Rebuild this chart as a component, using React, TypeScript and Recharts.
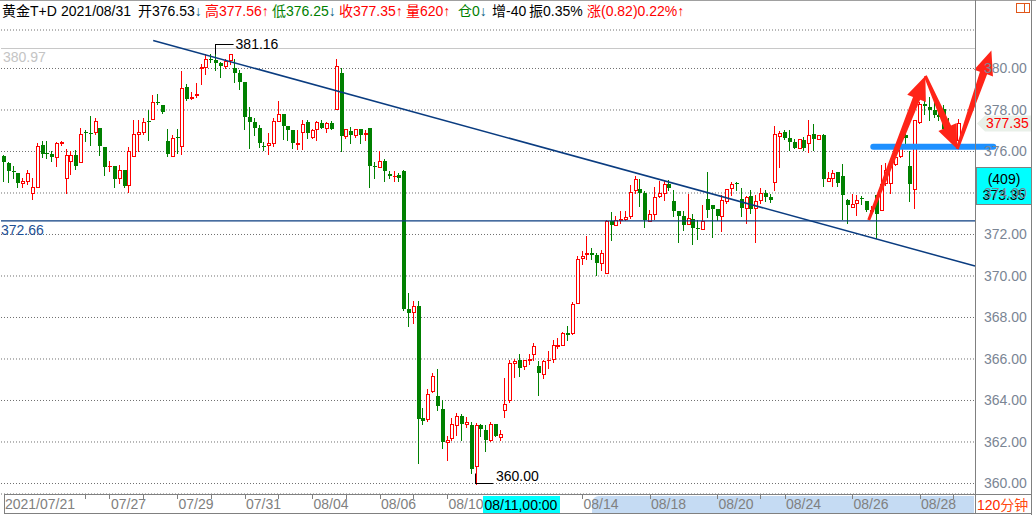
import React from 'react';
import { ComposedChart, Bar, XAxis, YAxis, CartesianGrid, ReferenceLine, ReferenceDot } from 'recharts';

// ---------- data (120-minute candles, 黄金T+D) ----------
const opens = [
  375.8, 375.45, 375.05, 374.95, 374.5, 374.6, 374.0, 374.3, 376.3, 375.95,
  375.9, 375.75, 376.4, 374.7, 375.55, 375.85, 375.47, 376.95, 376.9, 376.93,
  377.15, 376.24, 375.3, 375.28, 374.72, 375.1, 374.37, 375.8, 376.85, 376.96,
  377.45, 377.55, 378.38, 378.25, 376.5, 375.8, 376.68, 376.27, 379.1, 378.6,
  378.7, 380.0, 380.05, 380.48, 380.4, 380.27, 380.1, 380.4, 380.0, 379.76,
  379.33, 377.65, 377.44, 377.15, 376.25, 376.3, 376.4, 377.49, 377.8, 377.23,
  377.05, 376.38, 376.93, 377.4, 376.7, 377.07, 377.36, 377.15, 377.36, 378.03,
  379.79, 376.75, 377.0, 376.8, 377.07, 376.85, 377.12, 375.31, 375.24, 375.55,
  374.93, 374.8, 374.85, 375.05, 368.39, 368.27, 368.55, 363.15, 363.1, 364.45,
  364.24, 363.6, 362.0, 362.2, 362.8, 363.24, 362.87, 362.8, 360.85, 362.8,
  362.58, 362.1, 362.87, 362.23, 363.52, 364.0, 365.8, 365.97, 365.65, 365.97,
  366.23, 365.65, 365.29, 365.95, 366.0, 366.64, 366.69, 367.27, 367.26, 368.71,
  370.85, 371.05, 371.1, 371.0, 370.65, 370.16, 372.66, 372.47, 372.71, 372.76,
  372.87, 374.13, 374.19, 374.0, 372.63, 373.0, 373.84, 374.0, 374.45, 373.63,
  373.11, 372.87, 372.52, 372.73, 372.31, 372.27, 373.69, 373.4, 373.21, 372.89,
  373.61, 374.24, 374.48, 373.69, 373.29, 373.84, 373.29, 373.68, 374.02, 373.81,
  374.53, 376.76, 376.92, 376.63, 376.47, 376.19, 376.55, 376.39, 376.82, 376.58,
  376.79, 374.58, 374.73, 375.02, 374.81, 373.65, 373.32, 373.52, 373.75, 373.63,
  373.15, 373.9, 373.18, 374.46, 374.5, 375.42, 375.78, 376.8, 375.3, 374.17,
  377.43, 378.28, 378.15, 378.0, 377.75, 378.07, 377.2, 376.9, 376.53,
];
const highs = [
  375.85, 375.5, 375.3, 374.95, 374.7, 375.1, 374.7, 376.4, 376.5, 376.5,
  376.0, 376.45, 376.5, 376.1, 376.0, 376.05, 377.15, 377.05, 377.7, 377.6,
  377.15, 376.24, 375.55, 375.3, 375.33, 375.1, 376.2, 377.5, 377.5, 377.6,
  378.0, 378.7, 378.75, 378.25, 377.07, 376.8, 377.1, 379.9, 379.23, 378.88,
  379.28, 380.24, 380.69, 380.7, 381.16, 380.32, 380.48, 380.72, 380.48, 379.92,
  379.33, 378.16, 377.6, 377.28, 376.45, 376.9, 377.6, 378.45, 377.8, 377.23,
  377.05, 377.05, 377.52, 377.52, 377.09, 377.47, 377.52, 377.4, 377.47, 380.48,
  380.0, 377.07, 377.2, 377.07, 377.07, 377.04, 377.12, 375.5, 376.0, 375.63,
  375.04, 375.04, 374.96, 375.13, 369.16, 368.79, 368.79, 363.63, 364.56, 365.34,
  365.53, 364.0, 362.3, 363.15, 363.4, 363.35, 363.2, 362.95, 362.9, 362.87,
  362.8, 362.98, 362.87, 362.58, 365.1, 365.94, 366.0, 366.23, 365.97, 366.26,
  366.77, 365.89, 365.97, 366.37, 366.9, 367.0, 367.31, 367.6, 368.76, 370.97,
  371.2, 371.94, 371.34, 371.13, 371.23, 372.68, 373.06, 372.87, 373.11, 373.11,
  374.4, 374.84, 374.69, 374.11, 373.19, 374.29, 374.56, 374.56, 374.65, 374.16,
  373.15, 373.11, 373.97, 372.97, 372.68, 373.4, 375.02, 373.4, 373.21, 373.89,
  374.21, 374.53, 374.53, 374.26, 373.84, 374.16, 373.92, 374.26, 374.16, 373.97,
  377.23, 376.98, 377.03, 377.03, 376.58, 376.58, 376.71, 377.52, 377.32, 376.79,
  376.84, 375.02, 375.1, 375.02, 375.39, 373.73, 373.97, 373.89, 373.85, 373.63,
  373.39, 373.9, 375.34, 375.43, 375.5, 376.07, 376.7, 377.03, 376.02, 377.51,
  378.39, 378.96, 378.63, 378.48, 378.23, 378.23, 377.6, 377.1, 377.56,
];
const lows = [
  374.6, 374.55, 374.7, 374.3, 374.3, 374.45, 373.7, 374.3, 375.75, 375.7,
  375.55, 375.3, 376.3, 374.0, 374.9, 375.15, 375.47, 376.5, 376.3, 376.85,
  375.85, 374.85, 375.05, 374.27, 374.5, 374.27, 374.05, 375.8, 376.0, 376.85,
  376.55, 377.55, 378.3, 377.85, 375.8, 375.76, 375.95, 375.9, 378.48, 378.51,
  378.64, 379.25, 379.73, 380.3, 379.92, 379.57, 380.0, 380.24, 379.33, 379.0,
  377.07, 376.16, 376.8, 376.2, 376.05, 375.9, 376.27, 377.49, 376.6, 376.55,
  376.16, 376.13, 376.13, 376.64, 376.64, 376.56, 377.12, 376.93, 377.09, 378.03,
  376.0, 376.67, 376.4, 376.72, 376.4, 376.56, 374.27, 374.7, 375.24, 374.56,
  374.7, 374.56, 374.56, 368.35, 367.6, 367.74, 361.0, 362.87, 363.0, 364.4,
  363.55, 361.7, 361.13, 362.1, 362.35, 362.1, 362.7, 360.5, 360.0, 362.27,
  361.58, 362.07, 362.3, 362.1, 363.2, 363.92, 365.13, 365.16, 365.53, 365.74,
  365.97, 364.27, 365.1, 365.58, 365.85, 366.55, 366.69, 366.9, 367.2, 368.71,
  370.6, 370.8, 370.82, 370.05, 370.3, 370.16, 371.74, 372.47, 372.55, 372.71,
  372.79, 374.0, 373.35, 372.34, 372.63, 372.74, 373.79, 373.68, 374.16, 372.9,
  371.66, 372.24, 372.52, 371.52, 371.79, 372.27, 372.84, 371.87, 372.68, 372.19,
  373.53, 373.89, 374.16, 372.87, 372.55, 373.03, 371.63, 373.53, 373.6, 373.56,
  374.16, 375.26, 376.58, 376.06, 376.18, 376.19, 376.06, 375.98, 376.06, 376.58,
  374.32, 374.58, 374.32, 374.32, 372.76, 372.55, 373.32, 372.92, 373.45, 373.15,
  373.1, 371.81, 373.18, 374.38, 373.98, 375.35, 375.75, 376.23, 373.6, 373.26,
  377.38, 377.83, 377.5, 377.67, 377.54, 377.03, 376.6, 376.3, 376.25,
];
const closes = [
  375.5, 375.05, 375.0, 374.5, 374.6, 374.95, 374.3, 376.27, 375.9, 375.9,
  375.75, 376.4, 376.45, 375.85, 375.85, 375.3, 376.83, 376.92, 376.85, 377.47,
  376.27, 375.25, 375.32, 374.69, 375.1, 374.32, 376.0, 376.83, 376.95, 377.4,
  377.4, 378.37, 378.35, 377.9, 375.87, 376.67, 376.65, 379.04, 378.53, 378.64,
  378.75, 380.05, 380.48, 380.4, 380.27, 380.1, 380.37, 380.69, 379.76, 379.36,
  377.65, 377.44, 377.15, 376.4, 376.2, 376.4, 377.47, 377.8, 377.25, 377.05,
  376.4, 376.4, 377.31, 376.88, 377.04, 377.4, 377.15, 377.36, 377.09, 380.11,
  376.75, 377.07, 376.8, 377.07, 376.8, 376.88, 375.31, 375.25, 375.55, 375.04,
  374.8, 374.83, 374.72, 368.4, 368.24, 368.55, 363.1, 363.0, 364.32, 365.16,
  363.73, 361.98, 362.1, 362.87, 363.24, 362.87, 362.95, 360.7, 362.8, 362.63,
  362.1, 362.87, 362.3, 362.39, 363.84, 365.8, 365.9, 365.58, 365.94, 366.02,
  366.61, 365.32, 365.89, 365.97, 366.66, 366.66, 367.27, 367.15, 368.65, 370.81,
  370.98, 371.1, 371.0, 370.65, 371.1, 372.63, 372.47, 372.71, 372.76, 372.84,
  374.05, 374.68, 374.0, 372.71, 372.98, 373.81, 374.0, 374.45, 374.24, 373.11,
  372.87, 372.48, 372.79, 372.31, 372.26, 372.65, 373.16, 373.21, 372.87, 373.68,
  374.21, 374.45, 374.45, 373.27, 373.81, 373.24, 373.6, 374.02, 373.81, 373.68,
  376.82, 376.87, 376.66, 376.47, 376.19, 376.58, 376.19, 376.79, 376.58, 376.79,
  374.66, 374.74, 374.94, 374.48, 373.89, 373.4, 373.48, 373.68, 373.7, 373.18,
  373.2, 372.97, 374.41, 375.1, 375.35, 375.75, 376.23, 376.63, 374.41, 377.51,
  378.31, 378.2, 378.0, 377.75, 377.67, 377.1, 376.9, 376.55, 377.35,
];

const EMPTY_SLOTS = 3;
const xTickIdx = [0, 17, 22, 29, 36, 43, 50, 57, 64, 71, 78, 85, 92, 120, 134, 148, 157, 162, 176, 190, 197];
const xTickText: Record<number, string> = {
  0: '2021/07/21', 22: '07/27', 36: '07/29', 50: '07/31', 64: '08/04', 78: '08/06', 92: '08/10',
  120: '08/14', 134: '08/18', 148: '08/20', 162: '08/24', 176: '08/26', 190: '08/28',
};
const yTicks = [360, 362, 364, 366, 368, 370, 372, 374, 376, 378, 380];
const Y_DOMAIN: [number, number] = [359.494, 381.855];
const X_DOMAIN: [number, number] = [-0.5, 201.5];

// annotations (index, price)
const trendLine = [{ i: 31.06, p: 381.35 }, { i: 201.5, p: 370.48 }];
const supportPrice = 372.66;
const prevHighPrice = 380.97;
const highMark = { i: 44, p: 381.16, text: '381.16' };
const lowMark = { i: 98, p: 360.0, text: '360.00' };
const blueLevel = { from: 180.4, to: 205.3, p: 376.23 };
const arrowPath = [
  { i: 179.46, p: 372.7 },
  { i: 191.2, p: 379.64 },
  { i: 197.8, p: 376.12 },
  { i: 204.9, p: 380.87 },
];
const cross = { i: 99.46, p: 373.35, date: '08/11,00:00', count: '(409)' };

const RED = '#ff0000';
const GREEN = '#008000';
const AXIS_TEXT = '#7a8594';
const FONT = '"Liberation Sans", Arial, "Noto Sans CJK SC", sans-serif';

const rows = [
  ...opens.map((o, k) => ({
    i: k, c: String(k), o, h: highs[k], l: lows[k], cl: closes[k], range: [lows[k], highs[k]],
  })),
  ...Array.from({ length: EMPTY_SLOTS }, (_, j) => ({
    i: opens.length + j, c: String(opens.length + j), o: null, h: null, l: null, cl: null, range: null,
  })),
];

const Candle = (props: any) => {
  const { x, y, width, height, payload } = props;
  if (!payload || payload.h == null) return null;
  const { o, h, l, cl } = payload;
  const top0 = Math.min(y, y + height);
  const hgt = Math.abs(height);
  const span = h - l;
  const py = (v: number) => (span > 0 ? top0 + ((h - v) / span) * hgt : top0);
  const cx = Math.floor(x + width / 2);
  const wx = cx + 0.5;
  const yh = Math.round(py(h));
  const yl = Math.round(py(l));
  const bt = Math.round(py(Math.max(o, cl)));
  const bb = Math.round(py(Math.min(o, cl)));
  const up = cl >= o;
  if (up) {
    return (
      <g shapeRendering="crispEdges">
        {yh < bt && <line x1={wx} x2={wx} y1={yh} y2={bt} stroke={RED} />}
        {bb < yl && <line x1={wx} x2={wx} y1={bb + 1} y2={yl + 1} stroke={RED} />}
        {bb - bt >= 2 ? (
          <rect x={cx - 0.5} y={bt + 0.5} width={3} height={bb - bt} fill="#fff" stroke={RED} />
        ) : (
          <rect x={cx - 1} y={bt} width={4} height={Math.max(1, bb - bt + 1)} fill={RED} />
        )}
      </g>
    );
  }
  return (
    <g shapeRendering="crispEdges">
      <line x1={wx} x2={wx} y1={yh} y2={yl + 1} stroke={GREEN} />
      <rect x={cx - 1} y={bt} width={4} height={Math.max(1, bb - bt)} fill={GREEN} />
    </g>
  );
};

const XTick = (props: any) => {
  const { x, y, payload } = props;
  const label = xTickText[payload.value];
  const px = Math.round(x) + 0.5;
  return (
    <g>
      {payload.value !== 0 && <line x1={px} x2={px} y1={y + 1} y2={y + 5} stroke="#808080" />}
      {label && (
        <text x={x + 1.5} y={y + 15} fill="#808080" fontSize={14} fontFamily={FONT}>
          {label}
        </text>
      )}
    </g>
  );
};

const arrowShape = (p: any) => {
  const { x1, y1, x2, y2 } = p;
  const dx = x2 - x1;
  const dy = y2 - y1;
  const L = Math.hypot(dx, dy) || 1;
  const ux = dx / L;
  const uy = dy / L;
  const nx = -uy;
  const ny = ux;
  const hl = 24;
  const hw = 10;
  const w0 = 1.5;
  const w1 = 3.8;
  const bx = x2 - ux * hl;
  const by = y2 - uy * hl;
  const pts = [
    [x1 + nx * w0, y1 + ny * w0],
    [bx + nx * w1, by + ny * w1],
    [bx + nx * hw, by + ny * hw],
    [x2, y2],
    [bx - nx * hw, by - ny * hw],
    [bx - nx * w1, by - ny * w1],
    [x1 - nx * w0, y1 - ny * w0],
  ];
  return <polygon points={pts.map((q) => q.join(',')).join(' ')} fill="#ff2418" />;
};

const header = [
  { x: 2, parts: [['黄金T+D', '#000']] },
  { x: 61, parts: [['2021/08/31', '#000']] },
  { x: 138, parts: [['开376.53', '#000'], ['↓', '#0a6080']] },
  { x: 205, parts: [['高377.56↑', RED]] },
  { x: 272, parts: [['低376.25', GREEN], ['↓', '#0a6080']] },
  { x: 339, parts: [['收377.35↑', RED]] },
  { x: 406, parts: [['量620↑', RED]] },
  { x: 458, parts: [['仓0', GREEN], ['↓', '#0a6080']] },
  { x: 492, parts: [['增-40', '#000']] },
  { x: 529, parts: [['振0.35%', '#000']] },
  { x: 587, parts: [['涨(0.82)0.22%↑', RED]] },
];

export default function App() {
  const last = closes[closes.length - 1];
  return (
    <div style={{ position: 'absolute', left: 0, top: 0, width: 1036, height: 515, background: '#fff', overflow: 'hidden', fontFamily: FONT }}>
      {/* scroll range highlight under the time axis */}
      <div style={{ position: 'absolute', left: 592, top: 496, width: 382, height: 17, background: '#c5dbf3', borderTopLeftRadius: 7 }} />
      <div style={{ position: 'absolute', left: 0, top: 0 }}>
        <ComposedChart width={1036} height={515} data={rows} margin={{ top: 30, right: 4, bottom: 2, left: 1 }}>
          <CartesianGrid vertical={false} stroke="#707070" strokeDasharray="1 2" />
          <XAxis
            xAxisId="n"
            dataKey="i"
            type="number"
            domain={X_DOMAIN}
            allowDataOverflow
            ticks={xTickIdx}
            interval={0}
            height={19}
            axisLine={false}
            tickLine={false}
            tickSize={0}
            tickMargin={0}
            tick={<XTick />}
          />
          <XAxis dataKey="c" hide height={0} />
          <YAxis
            orientation="right"
            width={57}
            domain={Y_DOMAIN}
            allowDataOverflow
            ticks={yTicks}
            interval={0}
            axisLine={false}
            tickLine={false}
            tickSize={0}
            tickMargin={9}
            tickFormatter={(v: number) => v.toFixed(2)}
            tick={{ fill: AXIS_TEXT, fontSize: 14, fontFamily: FONT }}
          />
          <ReferenceLine
            xAxisId="n"
            y={prevHighPrice}
            shape={(p: any) => {
              const xl = Math.min(p.x1, p.x2);
              const xr = Math.max(p.x1, p.x2);
              return (
                <g>
                  <line x1={xl} x2={xr} y1={Math.round(p.y1) + 0.5} y2={Math.round(p.y2) + 0.5} stroke="#c8c8c8" />
                  <text x={xl + 2} y={p.y1 + 14} fill="#c4c4c4" fontSize={14} fontFamily={FONT}>
                    {prevHighPrice.toFixed(2)}
                  </text>
                </g>
              );
            }}
          />
          <Bar dataKey="range" isAnimationActive={false} shape={(p: any) => <Candle {...p} />} />
          <ReferenceLine
            xAxisId="n"
            y={supportPrice}
            shape={(p: any) => {
              const xl = Math.min(p.x1, p.x2);
              const xr = Math.max(p.x1, p.x2);
              return (
                <g>
                  <line x1={xl} x2={xr} y1={p.y1} y2={p.y2} stroke="#0a3c80" strokeWidth={1.3} />
                  <text x={xl} y={p.y1 + 14} fill="#1d4f93" fontSize={14} fontFamily={FONT}>
                    {supportPrice.toFixed(2)}
                  </text>
                </g>
              );
            }}
          />
          <ReferenceLine
            xAxisId="n"
            ifOverflow="visible"
            segment={[{ x: trendLine[0].i, y: trendLine[0].p }, { x: trendLine[1].i, y: trendLine[1].p }]}
            stroke="#0a3c80"
            strokeWidth={1.5}
          />
          <ReferenceDot
            xAxisId="n"
            x={highMark.i}
            y={highMark.p}
            ifOverflow="visible"
            shape={(p: any) => (
              <g>
                <line x1={Math.floor(p.cx) + 0.5} x2={Math.floor(p.cx) + 0.5} y1={p.cy} y2={p.cy + 10} stroke="#000" />
                <line x1={Math.floor(p.cx)} x2={p.cx + 18} y1={Math.round(p.cy) + 0.5} y2={Math.round(p.cy) + 0.5} stroke="#000" />
                <text x={p.cx + 20} y={p.cy + 5} fill="#000" fontSize={14} fontFamily={FONT}>
                  {highMark.text}
                </text>
              </g>
            )}
          />
          <ReferenceDot
            xAxisId="n"
            x={lowMark.i}
            y={lowMark.p}
            ifOverflow="visible"
            shape={(p: any) => (
              <g>
                <line x1={Math.floor(p.cx) + 0.5} x2={Math.floor(p.cx) + 0.5} y1={p.cy - 10} y2={p.cy} stroke="#000" />
                <line x1={Math.floor(p.cx)} x2={p.cx + 17} y1={Math.round(p.cy) - 0.5} y2={Math.round(p.cy) - 0.5} stroke="#000" />
                <text x={p.cx + 20} y={p.cy - 3} fill="#000" fontSize={14} fontFamily={FONT}>
                  {lowMark.text}
                </text>
              </g>
            )}
          />
          <ReferenceLine
            xAxisId="n"
            ifOverflow="visible"
            segment={[{ x: blueLevel.from, y: blueLevel.p }, { x: blueLevel.to, y: blueLevel.p }]}
            stroke="#1e90ff"
            strokeWidth={6}
            strokeLinecap="round"
          />
          {arrowPath.slice(1).map((pt, k) => (
            <ReferenceLine
              key={`arrow-${k}`}
              xAxisId="n"
              ifOverflow="visible"
              segment={[{ x: arrowPath[k].i, y: arrowPath[k].p }, { x: pt.i, y: pt.p }]}
              shape={arrowShape}
            />
          ))}
          <ReferenceDot
            xAxisId="n"
            x={X_DOMAIN[1]}
            y={last}
            ifOverflow="visible"
            shape={(p: any) => (
              <g>
                <polygon
                  points={`${p.cx + 2},${p.cy} ${p.cx + 10},${p.cy - 8} ${p.cx + 56},${p.cy - 8} ${p.cx + 56},${p.cy + 8} ${p.cx + 10},${p.cy + 8}`}
                  fill="#e9f0e9"
                />
                <text x={p.cx + 11} y={p.cy + 5} fill={RED} fontSize={14} fontFamily={FONT}>
                  {last.toFixed(2)}
                </text>
              </g>
            )}
          />
          <ReferenceDot
            xAxisId="n"
            x={X_DOMAIN[1]}
            y={cross.p}
            ifOverflow="visible"
            shape={(p: any) => (
              <g>
                <rect x={p.cx + 1.5} y={Math.round(p.cy) - 38.5} width={55} height={37} fill="#00ffff" stroke="#808080" />
                <text x={p.cx + 29} y={p.cy - 22} textAnchor="middle" fill="#000" fontSize={14} fontFamily={FONT}>
                  {cross.count}
                </text>
                <text x={p.cx + 29} y={p.cy - 6} textAnchor="middle" fill="#000" fontSize={14} fontFamily={FONT}>
                  {cross.p.toFixed(2)}
                </text>
              </g>
            )}
          />
          <ReferenceDot
            xAxisId="n"
            x={cross.i}
            y={Y_DOMAIN[0]}
            ifOverflow="visible"
            shape={(p: any) => (
              <g>
                <rect x={Math.round(p.cx)} y={Math.round(p.cy) + 2} width={77} height={17} fill="#00ffff" />
                <text x={p.cx + 1.5} y={p.cy + 16} fill="#000" fontSize={14} fontFamily={FONT}>
                  {cross.date}
                </text>
              </g>
            )}
          />
        </ComposedChart>
      </div>
      {/* frame, header and panel decorations */}
      <svg width={1036} height={515} style={{ position: 'absolute', left: 0, top: 0, pointerEvents: 'none' }}>
        <line x1={0} x2={1036} y1={0.5} y2={0.5} stroke="#a0a0a0" />
        <line x1={975.5} x2={975.5} y1={0} y2={513.5} stroke="#808080" />
        <line x1={1031.5} x2={1031.5} y1={0} y2={515} stroke="#808080" />
        <rect x={4.5} y={494.5} width={1027} height={19} fill="none" stroke="#808080" />
        <rect x={1016.5} y={3.5} width={13} height={9} fill="none" stroke="#e0561a" />
        <line x1={1024.5} x2={1024.5} y1={3.5} y2={12.5} stroke="#e0561a" />
        <text x={977} y={510} fontSize={14} fontFamily={FONT}>
          <tspan fill="#ff2a00">120</tspan>
          <tspan fill="#ff4a10">分钟</tspan>
        </text>
        {header.map((h, k) => (
          <text key={k} x={h.x} y={16} fontSize={14} fontFamily={FONT}>
            {h.parts.map((pt, j) => (
              <tspan key={j} fill={pt[1]}>
                {pt[0]}
              </tspan>
            ))}
          </text>
        ))}
      </svg>
    </div>
  );
}
